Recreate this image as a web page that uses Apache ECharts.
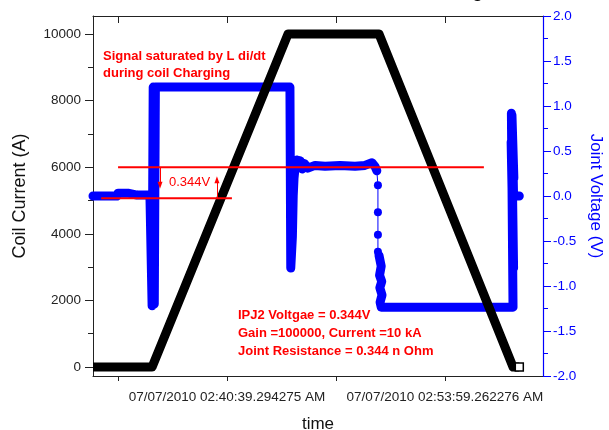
<!DOCTYPE html>
<html>
<head>
<meta charset="utf-8">
<script src="https://cdn.jsdelivr.net/npm/echarts@6/dist/echarts.min.js"></script>
<style>
  html, body { margin: 0; padding: 0; background: #fff; }
  #chart { width: 609px; height: 430px; }
</style>
</head>
<body>
<div id="chart"></div>
<script>
// Time axis in seconds counted from 07/07/2010 02:33:59.31 AM
const timeTicks = [0, 400, 800, 1200];
const timeTickLabels = ['', '07/07/2010 02:40:39.294275 AM', '', '07/07/2010 02:53:59.262276 AM'];
const currentTicks = [0, 2000, 4000, 6000, 8000, 10000];
const currentMinorTicks = [1000, 3000, 5000, 7000, 9000];

// Coil current (A) vs time (s)
const coilCurrent = [
  [-92, 0], [125, 0], [624, 10000], [958, 10000], [1450, 0], [1473, 0]
];

// Joint voltage (V) vs time (s); '-' breaks the trace where samples are sparse
const jointVoltage = [
  [-92, 0.0], [-4, 0.0], [0, 0.03], [40, 0.03], [70, 0.01], [117, 0.01],
  [125, -1.22], [129, 1.21], [133, -1.2], [137, 1.21], [141, 1.21],
  [631, 1.21], [634, -0.80], [640, -0.45], [643, 0.0], [646, 0.2], [650, 0.32],
  [656, 0.40], [662, 0.42], [669, 0.39], [676, 0.30], [684, 0.36], [697, 0.31],
  [723, 0.34], [760, 0.33], [815, 0.34], [870, 0.33], [906, 0.34], [932, 0.37],
  [943, 0.33], [950, 0.28],
  [954, '-'],
  [958, -0.66], [966, -0.78], [960, -0.88], [968, -0.95], [961, -1.02], [969, -1.1],
  [962, -1.18], [966, -1.235], [1000, -1.235], [1450, -1.235],
  [1444, 0.92], [1452, -0.8], [1443, 0.6], [1453, 0.2], [1446, 0.9], [1452, 0.0], [1473, 0.0]
];

// Sparse samples during the step down at the end of the flat top
const voltageStep = [
  [950, 0.28], [954, 0.12], [954, -0.18], [954, -0.43], [954, -0.62], [958, -0.66]
];

// Reference levels used to read the joint voltage
const levelUpper = [[0, 0.32], [1343, 0.32]];
const levelLower = [[-62, -0.024], [418, -0.024]];
const arrowDown = [[154, 0.32], [154, 0.12]];
const arrowUp = [[363, -0.024], [363, 0.18]];

const titleText = 'IPJ2 Joint Resistance Reading';
const noteSaturation = 'Signal saturated by L di/dt\nduring coil Charging';
const noteDelta = '0.344V';
const noteResult = 'IPJ2 Voltgae = 0.344V\nGain =100000, Current =10 kA\nJoint Resistance = 0.344 n Ohm';

const FONT = '"Liberation Sans", Arial, sans-serif';
const RED = '#ff0000';
const BLUE = '#0000ff';
const X_MIN = -92, X_MAX = 1560;

const chart = echarts.init(document.getElementById('chart'), null, { renderer: 'canvas' });

const lastIdx = coilCurrent.length - 1;
const currentData = coilCurrent.map((p, i) => i === lastIdx
  ? { value: p, symbol: 'rect', symbolSize: 8, itemStyle: { color: '#fff', borderColor: '#000', borderWidth: 1.5 } }
  : { value: p, symbol: 'none' });

const stepData = voltageStep.map((p, i) => (i === 0 || i === voltageStep.length - 1)
  ? { value: p, symbol: 'none' }
  : { value: p });

chart.setOption({
  animation: false,
  backgroundColor: '#fff',
  textStyle: { fontFamily: FONT },
  grid: { left: 93, right: 66, top: 16, bottom: 54, containLabel: false, outerBoundsMode: 'none' },
  xAxis: [
    {
      type: 'value', min: X_MIN, max: X_MAX,
      name: 'time', nameLocation: 'middle', nameGap: 40,
      nameTextStyle: { fontSize: 17, color: '#111', fontFamily: FONT },
      axisLine: { show: true, onZero: false, lineStyle: { color: '#222', width: 1 } },
      axisTick: { show: true, customValues: timeTicks, length: 5, lineStyle: { color: '#222' } },
      axisLabel: {
        show: true, customValues: [timeTicks[1], timeTicks[3]], margin: 14,
        fontSize: 13.5, color: '#222', fontFamily: FONT,
        formatter: v => timeTickLabels[timeTicks.indexOf(v)] || ''
      },
      splitLine: { show: false }
    },
    {
      type: 'value', min: X_MIN, max: X_MAX, position: 'top',
      axisLine: { show: true, onZero: false, lineStyle: { color: '#222', width: 1 } },
      axisTick: { show: true, inside: true, customValues: timeTicks, length: 7, lineStyle: { color: '#222' } },
      axisLabel: { show: false },
      splitLine: { show: false }
    }
  ],
  yAxis: [
    {
      type: 'value', min: -270, max: 10540, position: 'left',
      name: 'Coil Current (A)', nameLocation: 'middle', nameGap: 64, nameRotate: 90,
      nameTextStyle: { fontSize: 18, color: '#111', fontFamily: FONT },
      axisLine: { show: true, onZero: false, lineStyle: { color: '#222', width: 1 } },
      axisTick: { show: true, customValues: currentTicks, length: 8, lineStyle: { color: '#222' } },
      axisLabel: {
        show: true, customValues: currentTicks, margin: 12, fontSize: 13.5, color: '#222', fontFamily: FONT,
        formatter: v => String(v)
      },
      splitLine: { show: false }
    },
    {
      type: 'value', min: -2, max: 2, interval: 0.5, position: 'right',
      name: 'Joint Voltage (V)', nameLocation: 'middle', nameGap: 43, nameRotate: -90,
      nameTextStyle: { fontSize: 17, color: BLUE, fontFamily: FONT },
      axisLine: { show: true, onZero: false, lineStyle: { color: BLUE, width: 1.2 } },
      axisTick: { show: true, length: 8, lineStyle: { color: BLUE } },
      minorTick: { show: true, splitNumber: 2, length: 5, lineStyle: { color: BLUE } },
      axisLabel: { show: true, margin: 10, fontSize: 13.5, color: BLUE, fontFamily: FONT, formatter: v => v.toFixed(1) },
      splitLine: { show: false }, minorSplitLine: { show: false }
    },
    {
      type: 'value', min: -270, max: 10540, position: 'left', offset: 0,
      axisLine: { show: false, onZero: false },
      axisTick: { show: true, customValues: currentMinorTicks, length: 5, lineStyle: { color: '#222' } },
      axisLabel: { show: false },
      splitLine: { show: false }
    }
  ],
  series: [
    {
      name: 'Joint Voltage', type: 'line', xAxisIndex: 0, yAxisIndex: 1,
      data: jointVoltage, symbol: 'none', connectNulls: false, z: 2,
      lineStyle: { color: BLUE, width: 9, cap: 'round', join: 'round' }
    },
    {
      name: 'Joint Voltage step', type: 'line', xAxisIndex: 0, yAxisIndex: 1,
      data: stepData, symbol: 'circle', symbolSize: 8, showSymbol: true, z: 2,
      itemStyle: { color: BLUE }, lineStyle: { color: BLUE, width: 1 }
    },
    {
      name: 'Coil Current', type: 'line', xAxisIndex: 0, yAxisIndex: 0,
      data: currentData, showSymbol: true, z: 3,
      lineStyle: { color: '#000', width: 9, cap: 'butt', join: 'round' }
    },
    {
      name: 'Upper level', type: 'line', xAxisIndex: 0, yAxisIndex: 1,
      data: levelUpper, symbol: 'none', z: 4,
      lineStyle: { color: RED, width: 2 }
    },
    {
      name: 'Lower level', type: 'line', xAxisIndex: 0, yAxisIndex: 1,
      data: levelLower, symbol: 'none', z: 4,
      lineStyle: { color: RED, width: 2 },
      markLine: {
        silent: true, symbol: ['none', 'triangle'], symbolSize: [5, 7],
        label: { show: false },
        lineStyle: { color: RED, width: 1, type: 'solid' },
        data: [
          [{ coord: arrowDown[0] }, { coord: arrowDown[1] }],
          [{ coord: arrowUp[0] }, { coord: arrowUp[1] }]
        ]
      }
    }
  ],
  graphic: [
    {
      type: 'text', x: 483, y: 1, silent: true,
      style: { text: titleText, align: 'right', verticalAlign: 'bottom', font: '20px ' + FONT, fill: '#000' }
    },
    {
      type: 'text', x: 103, y: 47.5, silent: true, z: 10,
      style: { text: noteSaturation, align: 'left', verticalAlign: 'top', lineHeight: 17, font: 'bold 13px ' + FONT, fill: RED }
    },
    {
      type: 'text', x: 169, y: 182, silent: true, z: 10,
      style: { text: noteDelta, align: 'left', verticalAlign: 'middle', font: '13px ' + FONT, fill: RED }
    },
    {
      type: 'text', x: 238, y: 306, silent: true, z: 10,
      style: { text: noteResult, align: 'left', verticalAlign: 'top', lineHeight: 18, font: 'bold 13px ' + FONT, fill: RED }
    }
  ]
});
</script>
</body>
</html>
